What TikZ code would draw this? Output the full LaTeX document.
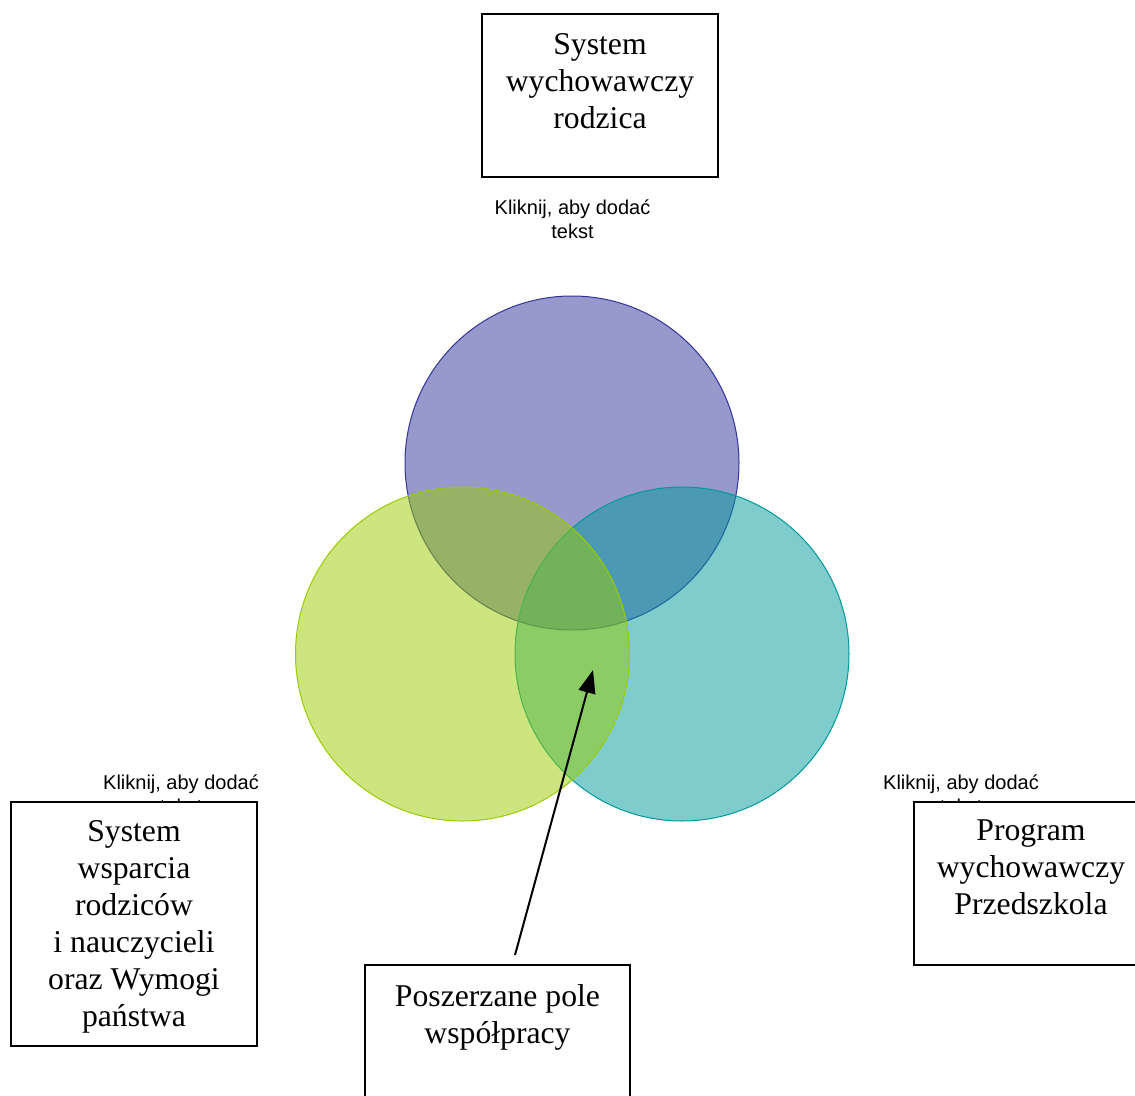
\documentclass[tikz,border=0pt]{standalone}
\usepackage{fontspec}
\setmainfont{Liberation Serif}
\newfontfamily\arialf{Liberation Sans}
\usetikzlibrary{arrows.meta}
\definecolor{vpurple}{HTML}{303399}
\definecolor{vgreen}{HTML}{99CC00}
\definecolor{vteal}{HTML}{009999}
\begin{document}
\begin{tikzpicture}[x=1pt,y=-1pt,
  boxstyle/.style={draw=black, line width=1.3pt, fill=white, rectangle, inner sep=0pt},
  boxtext/.style={anchor=north, align=center, inner sep=0pt, font=\fontsize{31.7}{37}\selectfont},
  hint/.style={anchor=north, align=center, inner sep=0pt, font=\arialf\fontsize{20}{24}\selectfont},
  venn/.style={circle, inner sep=0pt, minimum size=334pt, fill opacity=0.5, line width=1pt}]
\useasboundingbox (0,0) rectangle (1135,1095);
% circles
\node[venn, draw=vpurple, fill=vpurple] (cp) at (572,463) {};
\node[venn, draw=vteal, fill=vteal] (ct) at (682,654) {};
\node[venn, draw=vgreen, fill=vgreen] (cg) at (462.5,654) {};
% placeholder hints
\node[hint] (ht) at (572.5,200) {Kliknij, aby dodać\\tekst};
\node[hint] (hl) at (181,775) {Kliknij, aby dodać\\tekst};
\node[hint] (hr) at (961,775) {Kliknij, aby dodać\\tekst};
% boxes
\node[boxstyle, minimum width=236pt, minimum height=163pt] (bt) at (600,95.5) {};
\node[boxstyle, minimum width=246pt, minimum height=244pt] (bl) at (134,924) {};
\node[boxstyle, minimum width=234pt, minimum height=163pt] (br) at (1031,883.5) {};
\node[boxstyle, minimum width=265pt, minimum height=163pt] (bb) at (497.5,1046.5) {};
% box texts
\node[boxtext] (tt) at (600,33) {System\\wychowawczy\\rodzica};
\node[boxtext] (lt) at (134,820) {System\\wsparcia\\rodziców\\i nauczycieli\\oraz Wymogi\\państwa};
\node[boxtext] (rt) at (1031,820) {Program\\wychowawczy\\Przedszkola};
\node[boxtext] (btx) at (497.5,984) {Poszerzane pole\\współpracy};
% arrow
\coordinate (as) at (515,955);
\coordinate (ae) at (593,670);
\draw[-{Triangle[length=23pt,width=17pt]}, line width=2pt] (as) -- (ae);
\end{tikzpicture}
\end{document}
